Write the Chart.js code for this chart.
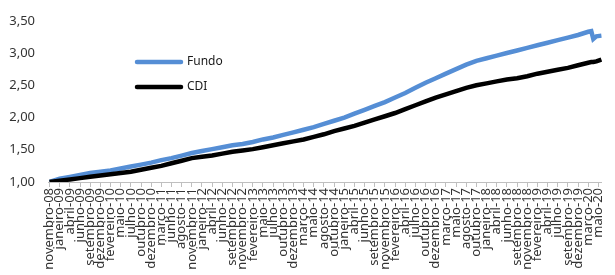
<!DOCTYPE html>
<html>
<head>
<meta charset="utf-8">
<script src="https://cdn.jsdelivr.net/npm/chart.js@4.4.1/dist/chart.umd.min.js"></script>
<style>
  html, body { margin: 0; padding: 0; background: #fff; overflow: hidden; }
</style>
</head>
<body>
<canvas id="chart" width="615" height="275"></canvas>
<script>
// tick labels on the x axis (one per tick)
const months = [
  'novembro-08', 'janeiro-09', 'abril-09', 'junho-09', 'setembro-09', 'dezembro-09',
  'fevereiro-10', 'maio-10', 'julho-10', 'outubro-10', 'dezembro-10',
  'março-11', 'junho-11', 'agosto-11', 'novembro-11',
  'janeiro-12', 'abril-12', 'junho-12', 'setembro-12', 'novembro-12',
  'fevereiro-13', 'maio-13', 'julho-13', 'outubro-13', 'dezembro-13',
  'março-14', 'maio-14', 'agosto-14', 'outubro-14',
  'janeiro-15', 'abril-15', 'junho-15', 'setembro-15', 'novembro-15',
  'fevereiro-16', 'abril-16', 'julho-16', 'outubro-16', 'dezembro-16',
  'março-17', 'maio-17', 'agosto-17', 'outubro-17',
  'janeiro-18', 'abril-18', 'junho-18', 'setembro-18', 'novembro-18',
  'fevereiro-19', 'abril-19', 'julho-19', 'setembro-19', 'dezembro-19',
  'março-20', 'maio-20'
];

// position of each point along the axis (in tick units), extra points at the end for the march-20 drop
const xPos = [
  0, 1, 2, 3, 4, 5, 6, 7, 8, 9, 10, 11, 12, 13, 14, 15, 16, 17, 18, 19,
  20, 21, 22, 23, 24, 25, 26, 27, 28, 29, 30, 31, 32, 33, 34, 35, 36, 37, 38, 39,
  40, 41, 42, 43, 44, 45, 46, 47, 48, 49, 50, 51, 52, 53, 53.3, 53.5, 53.8, 54.3
];

const fundo = [
  1.00, 1.05, 1.08, 1.11, 1.14, 1.16, 1.18, 1.21, 1.24, 1.27, 1.30, 1.34, 1.37, 1.41, 1.45, 1.48, 1.51, 1.54, 1.57, 1.59,
  1.62, 1.66, 1.69, 1.73, 1.77, 1.81, 1.85, 1.90, 1.95, 2.00, 2.06, 2.12, 2.18, 2.24, 2.31, 2.38, 2.46, 2.54, 2.61, 2.68,
  2.75, 2.82, 2.88, 2.92, 2.96, 3.00, 3.04, 3.08, 3.12, 3.16, 3.20, 3.24, 3.28, 3.33, 3.34, 3.22, 3.26, 3.27
];

const cdi = [
  1.00, 1.02, 1.04, 1.06, 1.08, 1.10, 1.12, 1.14, 1.16, 1.19, 1.22, 1.25, 1.29, 1.33, 1.37, 1.39, 1.41, 1.44, 1.47, 1.49,
  1.51, 1.54, 1.57, 1.60, 1.63, 1.66, 1.70, 1.74, 1.79, 1.83, 1.87, 1.92, 1.97, 2.02, 2.07, 2.13, 2.19, 2.25, 2.31, 2.36,
  2.41, 2.46, 2.50, 2.53, 2.56, 2.59, 2.61, 2.64, 2.68, 2.71, 2.74, 2.77, 2.81, 2.85, 2.86, 2.86, 2.87, 2.90
];

const yMin = 1, yMax = 3.5, yStep = 0.5;

const textColor = '#333333';
const axisColor = '#bfbfbf';
const fontFamily = '"Noto Sans", "Open Sans", sans-serif';

// legend drawn inside the plot, to the left, like the original
const insideLegend = {
  id: 'insideLegend',
  afterDraw(chart) {
    const ctx = chart.ctx;
    const rows = [62, 87];
    ctx.save();
    chart.data.datasets.forEach((ds, i) => {
      const y = rows[i];
      ctx.strokeStyle = ds.borderColor;
      ctx.lineWidth = 4.5;
      ctx.lineCap = 'round';
      ctx.beginPath();
      ctx.moveTo(137, y);
      ctx.lineTo(181, y);
      ctx.stroke();
      ctx.fillStyle = '#1a1a1a';
      ctx.font = '12px ' + fontFamily;
      ctx.textBaseline = 'middle';
      ctx.fillText(ds.label, 187, y);
    });
    ctx.restore();
  }
};

const ctx = document.getElementById('chart').getContext('2d');
new Chart(ctx, {
  type: 'line',
  data: {
    datasets: [
      {
        label: 'Fundo',
        data: xPos.map((x, i) => ({ x: x, y: fundo[i] })),
        borderColor: '#558ed5',
        borderWidth: 4.5,
        pointRadius: 0,
        tension: 0,
        fill: false,
        order: 1
      },
      {
        label: 'CDI',
        data: xPos.map((x, i) => ({ x: x, y: cdi[i] })),
        borderColor: '#000000',
        borderWidth: 4.5,
        pointRadius: 0,
        tension: 0,
        fill: false,
        order: 0
      }
    ]
  },
  options: {
    responsive: false,
    animation: false,
    devicePixelRatio: 1,
    layout: { padding: { top: 14, right: 2, left: 0, bottom: 0 } },
    plugins: {
      legend: { display: false },
      tooltip: { enabled: false }
    },
    scales: {
      x: {
        type: 'linear',
        min: -0.15,
        max: 54.35,
        afterBuildTicks: s => { s.ticks = months.map((m, i) => ({ value: i })); },
        afterFit: s => { s.height = 93; },
        ticks: {
          autoSkip: false,
          minRotation: 90,
          maxRotation: 90,
          padding: 1,
          color: textColor,
          font: { family: fontFamily, size: 13 },
          callback: v => months[v]
        },
        grid: { display: true, drawOnChartArea: false, drawTicks: true, tickLength: 5, color: axisColor },
        border: { display: true, color: axisColor, width: 1 }
      },
      y: {
        min: yMin,
        max: yMax,
        afterFit: s => { s.width = 48; },
        ticks: {
          stepSize: yStep,
          padding: 13,
          color: textColor,
          font: { family: fontFamily, size: 13 },
          callback: v => v.toFixed(2).replace('.', ',')
        },
        grid: { display: false, drawTicks: false },
        border: { display: false }
      }
    }
  },
  plugins: [insideLegend]
});
</script>
</body>
</html>
